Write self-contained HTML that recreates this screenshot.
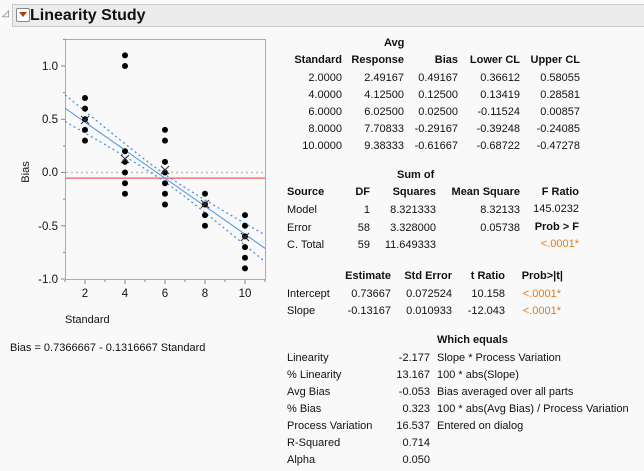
<!DOCTYPE html>
<html><head><meta charset="utf-8"><style>
body{margin:0;width:644px;height:471px;background:#f9f9f9;font-family:"Liberation Sans",sans-serif;font-size:11px;color:#111;overflow:hidden;position:relative}
.t{position:absolute;white-space:nowrap;line-height:14px}
.r{text-align:right}
.b{font-weight:bold}
.o{color:#e07b1f}
</style></head><body>
<div style="position:absolute;left:12px;top:4px;width:640px;height:21px;background:#ececec;border:1px solid #c8c8c8"></div>
<div style="position:absolute;left:2px;top:8px;font-size:9px;color:#666">◿</div>
<div style="position:absolute;left:16px;top:8px;width:12px;height:12px;background:#fff;border:1px solid #888;border-radius:2px"></div>
<div style="position:absolute;left:19px;top:12px;width:0;height:0;border-left:4px solid transparent;border-right:4px solid transparent;border-top:5px solid #b0400a"></div>
<div class="t b" style="left:30px;top:6px;font-size:16px;line-height:19px">Linearity Study</div>

<svg style="position:absolute;left:0;top:0" width="644" height="471">
<rect x="65.5" y="39.5" width="200" height="240" fill="#f9f9f9" stroke="#aaa"/>
<g stroke="#888">
<line x1="61" y1="66" x2="65" y2="66"/><line x1="61" y1="119.3" x2="65" y2="119.3"/><line x1="61" y1="172.5" x2="65" y2="172.5"/><line x1="61" y1="225.8" x2="65" y2="225.8"/><line x1="61" y1="279" x2="65" y2="279"/>
<line x1="63" y1="92.6" x2="65" y2="92.6"/><line x1="63" y1="145.9" x2="65" y2="145.9"/><line x1="63" y1="199.1" x2="65" y2="199.1"/><line x1="63" y1="252.4" x2="65" y2="252.4"/><line x1="63" y1="39.4" x2="65" y2="39.4"/>
<line x1="85" y1="280" x2="85" y2="284"/><line x1="125" y1="280" x2="125" y2="284"/><line x1="165" y1="280" x2="165" y2="284"/><line x1="205" y1="280" x2="205" y2="284"/><line x1="245" y1="280" x2="245" y2="284"/>
<line x1="65" y1="280" x2="65" y2="282"/><line x1="105" y1="280" x2="105" y2="282"/><line x1="145" y1="280" x2="145" y2="282"/><line x1="185" y1="280" x2="185" y2="282"/><line x1="225" y1="280" x2="225" y2="282"/><line x1="265" y1="280" x2="265" y2="282"/>
</g>
<g font-size="11.5" text-anchor="end" fill="#111" font-family="Liberation Sans">
<text x="58" y="70">1.0</text><text x="58" y="123">0.5</text><text x="58" y="176">0.0</text><text x="58" y="230">-0.5</text><text x="58" y="283">-1.0</text>
</g>
<g font-size="11.5" text-anchor="middle" fill="#111" font-family="Liberation Sans">
<text x="85" y="297">2</text><text x="125" y="297">4</text><text x="165" y="297">6</text><text x="205" y="297">8</text><text x="245" y="297">10</text>
</g>
<text x="65" y="323" font-size="11" font-family="Liberation Sans" fill="#111">Standard</text>
<text transform="translate(29,172) rotate(-90)" font-size="11" font-family="Liberation Sans" text-anchor="middle" fill="#111">Bias</text>
<line x1="66" y1="172.5" x2="265" y2="172.5" stroke="#bbb" stroke-width="1.5" stroke-dasharray="2,3"/>
<line x1="66" y1="178.1" x2="265" y2="178.1" stroke="#f06060" stroke-width="1.3"/>
<line x1="65" y1="108.1" x2="265" y2="248.3" stroke="#4a90e2" stroke-width="1"/>
<polyline fill="none" stroke="#4a90e2" stroke-dasharray="2,3" stroke-width="1.3" points="65,94.8 85,111.2 105,127.6 125,143.8 145,159.7 165,174.5 185,187.7 205,199.9 225,211.8 245,223.4 265,235"/>
<polyline fill="none" stroke="#4a90e2" stroke-dasharray="2,3" stroke-width="1.3" points="65,121.4 85,133 105,144.6 125,156.5 145,168.7 165,181.9 185,196.7 205,212.6 225,228.8 245,245.2 265,261.6"/>
<g fill="#000">
<circle cx="85" cy="98" r="3"/><circle cx="85" cy="108.6" r="3"/><circle cx="85" cy="119.3" r="3"/><circle cx="85" cy="129.9" r="3"/><circle cx="85" cy="140.6" r="3"/>
<circle cx="125" cy="55.4" r="3"/><circle cx="125" cy="66" r="3"/><circle cx="125" cy="151.2" r="3"/><circle cx="125" cy="161.9" r="3"/><circle cx="125" cy="172.5" r="3"/><circle cx="125" cy="183.2" r="3"/><circle cx="125" cy="193.8" r="3"/>
<circle cx="165" cy="129.9" r="3"/><circle cx="165" cy="140.6" r="3"/><circle cx="165" cy="161.9" r="3"/><circle cx="165" cy="172.5" r="3"/><circle cx="165" cy="183.2" r="3"/><circle cx="165" cy="193.8" r="3"/><circle cx="165" cy="204.5" r="3"/>
<circle cx="205" cy="193.8" r="3"/><circle cx="205" cy="204.5" r="3"/><circle cx="205" cy="215.1" r="3"/><circle cx="205" cy="225.8" r="3"/>
<circle cx="245" cy="215.1" r="3"/><circle cx="245" cy="225.8" r="3"/><circle cx="245" cy="236.4" r="3"/><circle cx="245" cy="247.1" r="3"/><circle cx="245" cy="257.7" r="3"/><circle cx="245" cy="268.4" r="3"/>
</g>
<g stroke="#333" stroke-width="1">
<path d="M81,116 l8,8 M89,116 l-8,8"/><path d="M121,155 l8,8 M129,155 l-8,8"/><path d="M161,166 l8,8 M169,166 l-8,8"/><path d="M201,200 l8,8 M209,200 l-8,8"/><path d="M241,233 l8,8 M249,233 l-8,8"/>
</g>
</svg>

<div class="t" style="left:10px;top:341px">Bias = 0.7366667 - 0.1316667 Standard</div>

<div class="t b" style="left:384px;top:36px">Avg</div>
<div class="t b r" style="right:302px;top:53px">Standard</div>
<div class="t b r" style="right:240px;top:53px">Response</div>
<div class="t b r" style="right:186px;top:53px">Bias</div>
<div class="t b r" style="right:124px;top:53px">Lower CL</div>
<div class="t b r" style="right:64px;top:53px">Upper CL</div>
<div class="t r" style="right:302px;top:70px;line-height:17px">2.0000<br>4.0000<br>6.0000<br>8.0000<br>10.0000</div>
<div class="t r" style="right:240px;top:70px;line-height:17px">2.49167<br>4.12500<br>6.02500<br>7.70833<br>9.38333</div>
<div class="t r" style="right:186px;top:70px;line-height:17px">0.49167<br>0.12500<br>0.02500<br>-0.29167<br>-0.61667</div>
<div class="t r" style="right:124px;top:70px;line-height:17px">0.36612<br>0.13419<br>-0.11524<br>-0.39248<br>-0.68722</div>
<div class="t r" style="right:64px;top:70px;line-height:17px">0.58055<br>0.28581<br>0.00857<br>-0.24085<br>-0.47278</div>

<div class="t b" style="left:397px;top:168px">Sum of</div>
<div class="t b" style="left:287px;top:185px">Source</div>
<div class="t b r" style="right:274px;top:185px">DF</div>
<div class="t b r" style="right:208px;top:185px">Squares</div>
<div class="t b r" style="right:124px;top:185px">Mean Square</div>
<div class="t b r" style="right:65px;top:185px">F Ratio</div>
<div class="t" style="left:287px;top:202px;line-height:17.5px">Model<br>Error<br>C. Total</div>
<div class="t r" style="right:274px;top:202px;line-height:17.5px">1<br>58<br>59</div>
<div class="t r" style="right:208px;top:202px;line-height:17.5px">8.321333<br>3.328000<br>11.649333</div>
<div class="t r" style="right:124px;top:202px;line-height:17.5px">8.32133<br>0.05738</div>
<div class="t r" style="right:65px;top:202px">145.0232</div>
<div class="t b r" style="right:65px;top:220px">Prob &gt; F</div>
<div class="t r o" style="right:65px;top:237px">&lt;.0001*</div>

<div class="t b r" style="right:253px;top:269px">Estimate</div>
<div class="t b r" style="right:192px;top:269px">Std Error</div>
<div class="t b r" style="right:139px;top:269px">t Ratio</div>
<div class="t b r" style="right:81px;top:269px">Prob&gt;|t|</div>
<div class="t" style="left:287px;top:286px;line-height:17px">Intercept<br>Slope</div>
<div class="t r" style="right:253px;top:286px;line-height:17px">0.73667<br>-0.13167</div>
<div class="t r" style="right:192px;top:286px;line-height:17px">0.072524<br>0.010933</div>
<div class="t r" style="right:139px;top:286px;line-height:17px">10.158<br>-12.043</div>
<div class="t r o" style="right:83px;top:286px;line-height:17px">&lt;.0001*<br>&lt;.0001*</div>

<div class="t b" style="left:437px;top:333px">Which equals</div>
<div class="t" style="left:287px;top:350px;line-height:17px">Linearity<br>% Linearity<br>Avg Bias<br>% Bias<br>Process Variation<br>R-Squared<br>Alpha</div>
<div class="t r" style="right:214px;top:350px;line-height:17px">-2.177<br>13.167<br>-0.053<br>0.323<br>16.537<br>0.714<br>0.050</div>
<div class="t" style="left:437px;top:350px;line-height:17px">Slope * Process Variation<br>100 * abs(Slope)<br>Bias averaged over all parts<br>100 * abs(Avg Bias) / Process Variation<br>Entered on dialog</div>
</body></html>
